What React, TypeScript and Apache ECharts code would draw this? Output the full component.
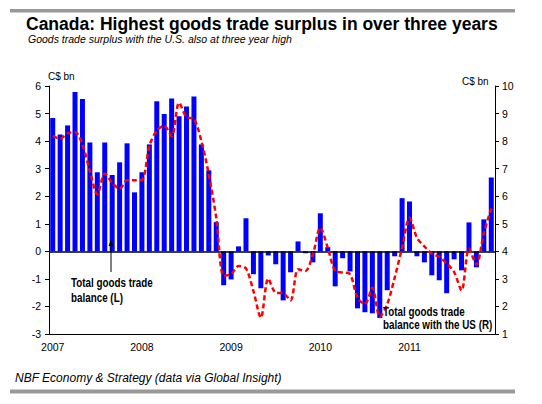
import React, { useEffect, useRef } from "react";
import * as echarts from "echarts";

const years = ["2007", "2008", "2009", "2010", "2011"];
const months = ["01", "02", "03", "04", "05", "06", "07", "08", "09", "10", "11", "12"];
const categories: string[] = [];
years.forEach((y) => months.forEach((m) => categories.push(`${y}-${m}`)));

// Total goods trade balance (L), C$ bn
const totalBalance = [
  4.84, 4.24, 4.57, 5.78, 5.53, 3.95, 2.87, 3.95, 2.77, 3.23, 3.92, 2.14,
  2.87, 3.88, 5.45, 4.98, 5.55, 4.9, 5.26, 5.62, 3.88, 2.94, 1.06, -1.23,
  -1.02, 0.18, 1.2, -0.83, -1.34, -0.15, -0.47, -1.78, -0.76, 0.36, -0.07, -0.4,
  1.38, 0.15, -1.27, -0.25, -0.73, -2.07, -2.21, -2.25, -2.42, -1.41, -0.18, 1.93,
  1.81, -0.18, -0.4, -0.87, -1.05, -1.52, -0.29, -0.69, 1.05, -0.58, 1.16, 2.68,
];

// Total goods trade balance with the US (R), C$ bn
const usBalance = [
  8.18, 8.09, 8.28, 8.33, 7.88, 6.91, 6.07, 6.82, 6.49, 6.27, 6.58, 6.58,
  6.59, 7.82, 8.39, 8.55, 8.18, 9.39, 8.87, 8.81, 8.0, 6.79, 5.22, 3.11,
  3.17, 3.47, 3.38, 2.56, 1.59, 3.01, 2.5, 2.48, 2.22, 3.35, 3.29, 3.89,
  4.86, 4.13, 3.29, 3.23, 3.17, 2.32, 2.08, 2.68, 1.62, 2.08, 3.04, 4.13,
  5.22, 4.49, 4.18, 3.92, 3.8, 3.56, 3.25, 2.58, 4.1, 3.52, 4.67, 5.56,
];

const FONT = "'Liberation Sans', Arial, sans-serif";

export default function App() {
  const ref = useRef<HTMLDivElement>(null);
  useEffect(() => {
    document.body.style.margin = "0";
    if (!ref.current) return;
    const chart = echarts.init(ref.current, undefined, { renderer: "svg" });
    const axisLabelStyle = { color: "#000", fontSize: 10.5, fontFamily: FONT };
    const boldNarrow = (text: string, x: number, y: number) => ({
      type: "text",
      x,
      y,
      scaleX: 0.82,
      z: 100,
      style: {
        text,
        fill: "#000",
        font: `bold 12px ${FONT}`,
        verticalAlign: "middle",
      },
    });
    chart.setOption({
      animation: false,
      backgroundColor: "#fff",
      grid: { left: 49, right: 47, top: 86, bottom: 70, containLabel: false },
      xAxis: [
        {
          type: "category",
          data: categories,
          boundaryGap: true,
          position: "bottom",
          axisLine: { onZero: false, lineStyle: { color: "#000", width: 1 } },
          axisTick: { alignWithLabel: true, interval: 0, length: 3, lineStyle: { color: "#000" } },
          axisLabel: {
            ...axisLabelStyle,
            margin: 7,
            interval: (i: number) => i % 12 === 0,
            formatter: (v: string) => v.slice(0, 4),
          },
          splitLine: { show: false },
        },
        {
          type: "category",
          data: categories,
          boundaryGap: true,
          position: "bottom",
          axisLine: { show: false, onZero: false },
          axisTick: {
            alignWithLabel: true,
            interval: (i: number) => i % 12 === 0,
            length: 6,
            lineStyle: { color: "#000" },
          },
          axisLabel: { show: false },
          splitLine: { show: false },
        },
      ],
      yAxis: [
        {
          type: "value",
          min: -3,
          max: 6,
          interval: 1,
          position: "left",
          axisLine: { show: true, lineStyle: { color: "#000", width: 1 } },
          axisTick: { show: true, length: 4, lineStyle: { color: "#000" } },
          axisLabel: { ...axisLabelStyle, margin: 8 },
          splitLine: { show: false },
        },
        {
          type: "value",
          min: 1,
          max: 10,
          interval: 1,
          position: "right",
          axisLine: { show: true, lineStyle: { color: "#000", width: 1 } },
          axisTick: { show: true, length: 4, lineStyle: { color: "#000" } },
          axisLabel: { ...axisLabelStyle, margin: 7 },
          splitLine: { show: false },
        },
      ],
      series: [
        {
          name: "Total goods trade balance (L)",
          type: "bar",
          xAxisIndex: 0,
          yAxisIndex: 0,
          data: totalBalance,
          barWidth: 5,
          itemStyle: { color: "#0000FF" },
          z: 2,
          markLine: {
            silent: true,
            symbol: "none",
            label: { show: false },
            lineStyle: { color: "#000", width: 1.5, type: "solid" },
            data: [{ yAxis: 0 }],
            z: 3,
          },
        },
        {
          name: "Total goods trade balance with the US (R)",
          type: "line",
          xAxisIndex: 0,
          yAxisIndex: 1,
          data: usBalance,
          smooth: 0.3,
          symbol: "none",
          lineStyle: { color: "#FF0000", width: 2.5, type: [5, 3] },
          z: 5,
        },
      ],
      graphic: [
        { type: "rect", shape: { x: 10, y: 9, width: 505, height: 3.5 }, style: { fill: "#999" } },
        { type: "rect", shape: { x: 10, y: 389.5, width: 505, height: 4 }, style: { fill: "#999" } },
        {
          type: "text",
          x: 26,
          y: 23.8,
          style: {
            text: "Canada: Highest goods trade surplus in over three years",
            fill: "#000",
            font: `bold 17.5px ${FONT}`,
            verticalAlign: "middle",
          },
        },
        {
          type: "text",
          x: 28,
          y: 39.2,
          style: {
            text: "Goods trade surplus with the U.S. also at three year high",
            fill: "#000",
            font: `italic 10.5px ${FONT}`,
            verticalAlign: "middle",
          },
        },
        {
          type: "text",
          x: 15,
          y: 377.6,
          style: {
            text: "NBF Economy & Strategy (data via Global Insight)",
            fill: "#000",
            font: `italic 12px ${FONT}`,
            verticalAlign: "middle",
          },
        },
        {
          type: "text",
          x: 48,
          y: 76,
          style: { text: "C$ bn", fill: "#000", font: `10px ${FONT}`, verticalAlign: "middle" },
        },
        {
          type: "text",
          x: 462,
          y: 81,
          style: { text: "C$ bn", fill: "#000", font: `10px ${FONT}`, verticalAlign: "middle" },
        },
        boldNarrow("Total goods trade", 71, 283),
        boldNarrow("balance (L)", 71, 298),
        boldNarrow("Total goods trade", 383, 311.5),
        boldNarrow("balance with the US (R)", 383, 324.5),
        {
          type: "line",
          z: 100,
          shape: { x1: 111, y1: 272, x2: 111, y2: 245 },
          style: { stroke: "#000", lineWidth: 1 },
        },
        {
          type: "polygon",
          z: 100,
          shape: { points: [[111, 239.5], [108.6, 246], [113.4, 246]] },
          style: { fill: "#000" },
        },
      ],
    });
    return () => chart.dispose();
  }, []);
  return <div ref={ref} style={{ width: 542, height: 404 }} />;
}
